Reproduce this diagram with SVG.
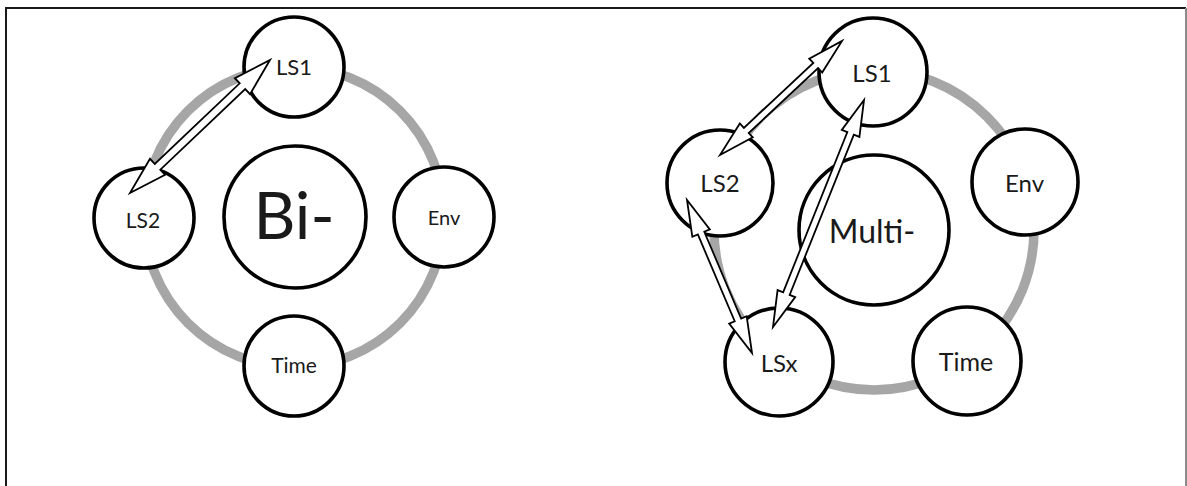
<svg xmlns="http://www.w3.org/2000/svg" width="1187" height="486" viewBox="0 0 1187 486">
  <defs>
    <style>
      .bg { fill: #ffffff; }
      .frame { fill: none; stroke: #1a1a1a; stroke-width: 2; }
      .frame-r { fill: none; stroke: #8c8c8c; stroke-width: 2; }
      .ring { fill: none; stroke: #a6a6a6; stroke-width: 9.5; }
      .node { fill: #ffffff; stroke: #000000; stroke-width: 3.6; }
      .label { font-family: Lato, "Open Sans", "Liberation Sans", sans-serif; fill: #1a1a1a; text-anchor: middle; }
      .arrow { fill: #ffffff; stroke: #000000; stroke-width: 1.8; stroke-linejoin: miter; }
    </style>
  </defs>

  <rect class="bg" x="0" y="0" width="1187" height="486"/>

  <!-- outer frame (open at the bottom) -->
  <path class="frame" d="M6,490 V8 H1186"/>
  <path class="frame-r" d="M1186,8 V490"/>

  <!-- ===== Bi- cycle ===== -->
  <circle class="ring" cx="294" cy="217" r="150"/>

  <g id="bi-center">
    <circle class="node" cx="295" cy="217" r="71"/>
    <text class="label" x="294" y="238.5" font-size="65">Bi-</text>
  </g>
  <g id="bi-ls1">
    <circle class="node" cx="294" cy="67" r="50"/>
    <text class="label" x="294" y="75" font-size="22">LS1</text>
  </g>
  <g id="bi-env">
    <circle class="node" cx="444" cy="217" r="50"/>
    <text class="label" x="444" y="224.5" font-size="20">Env</text>
  </g>
  <g id="bi-time">
    <circle class="node" cx="294" cy="366" r="50"/>
    <text class="label" x="294" y="373" font-size="21">Time</text>
  </g>
  <g id="bi-ls2">
    <circle class="node" cx="144" cy="218" r="50"/>
    <text class="label" x="143" y="227.5" font-size="21">LS2</text>
  </g>

  <!-- ===== Multi- cycle ===== -->
  <circle class="ring" cx="874" cy="230" r="160"/>

  <g id="multi-center">
    <circle class="node" cx="874" cy="230" r="75"/>
    <text class="label" x="872" y="243" font-size="32">Multi-</text>
  </g>
  <g id="multi-ls1">
    <circle class="node" cx="873" cy="72" r="54"/>
    <text class="label" x="872" y="82" font-size="24">LS1</text>
  </g>
  <g id="multi-env">
    <circle class="node" cx="1025" cy="182" r="53"/>
    <text class="label" x="1024.5" y="191.5" font-size="24">Env</text>
  </g>
  <g id="multi-time">
    <circle class="node" cx="967" cy="361" r="54"/>
    <text class="label" x="966" y="371" font-size="25">Time</text>
  </g>
  <g id="multi-lsx">
    <circle class="node" cx="779" cy="362" r="54"/>
    <text class="label" x="779" y="372" font-size="24">LSx</text>
  </g>
  <g id="multi-ls2">
    <circle class="node" cx="720" cy="183" r="53"/>
    <text class="label" x="720" y="191.5" font-size="24">LS2</text>
  </g>

  <!-- double-headed block connectors -->
  <g id="connectors">
    <polygon class="arrow" points="130,193 165.13,174.80 160.31,169.72 245.21,89.08 250.03,94.16 270,60 234.87,78.20 239.69,83.28 154.79,163.92 149.97,158.84"/>
    <polygon class="arrow" points="720,155 752.78,137.37 748.69,132.99 818.09,68.13 822.18,72.51 842,41 809.22,58.63 813.31,63.01 743.91,127.87 739.82,123.49"/>
    <polygon class="arrow" points="773,327 795.22,297.11 789.65,294.88 853.85,134.72 859.42,136.95 864,100 841.78,129.89 847.35,132.12 783.15,292.28 777.58,290.05"/>
    <polygon class="arrow" points="752,353 746.66,316.16 741.14,318.50 704.30,231.76 709.82,229.42 687,200 692.34,236.84 697.86,234.50 734.70,321.24 729.18,323.58"/>
  </g>
</svg>
